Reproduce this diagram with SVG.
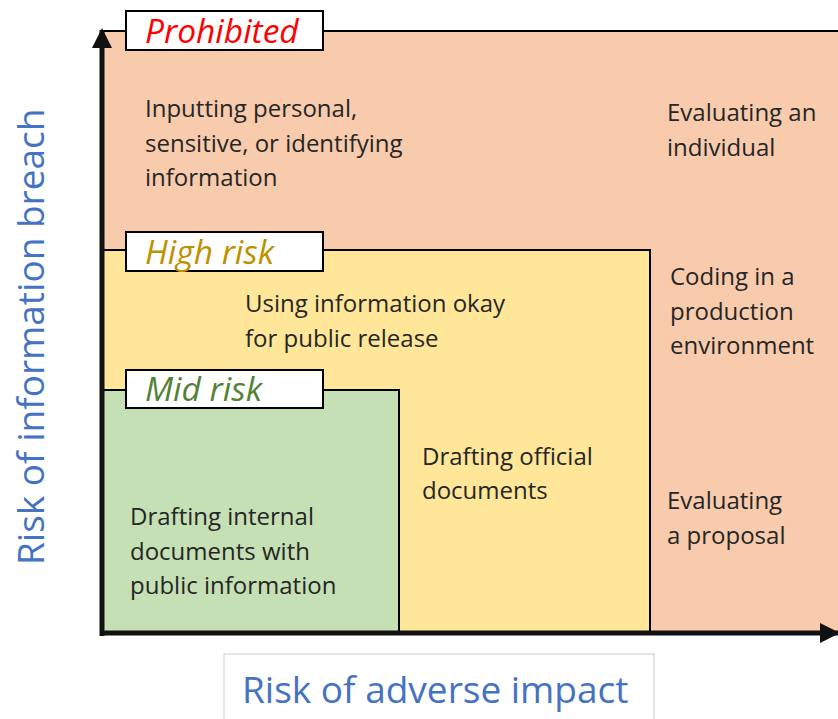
<svg xmlns="http://www.w3.org/2000/svg" width="838" height="719" viewBox="0 0 838 719">
<style>
.t{font-family:"Open Sans","Noto Sans","Liberation Sans",sans-serif;font-size:24px;fill:#262626}
.lab{font-family:"Open Sans","Noto Sans","Liberation Sans",sans-serif;font-size:33.5px;font-style:italic}
.ax{font-family:"Open Sans","Noto Sans","Liberation Sans",sans-serif;font-size:37px;fill:#4472C4}
.box{fill:#fff;stroke:#000;stroke-width:2}
.zone{stroke:#000;stroke-width:2}
</style>
<defs>
<marker id="ah" viewBox="0 0 10 10" refX="9" refY="5" markerWidth="4" markerHeight="4" orient="auto" markerUnits="strokeWidth">
<path d="M0,0 L10,5 L0,10 z" fill="#111"/>
</marker>
</defs>
<rect width="838" height="719" fill="#fff"/>
<g id="prohibited">
<rect class="zone" x="103" y="31" width="740" height="602" fill="#F8CBAD"/>
<rect class="box" x="126" y="11" width="197" height="39"/>
<text class="lab" x="145" y="43" fill="#FF0000">Prohibited</text>
<text class="t" x="145" y="117">Inputting personal,</text>
<text class="t" x="145" y="152">sensitive, or identifying</text>
<text class="t" x="145" y="186">information</text>
<text class="t" x="667" y="121">Evaluating an</text>
<text class="t" x="667" y="156">individual</text>
<text class="t" x="670" y="285">Coding in a</text>
<text class="t" x="670" y="320">production</text>
<text class="t" x="670" y="354">environment</text>
<text class="t" x="667" y="509">Evaluating</text>
<text class="t" x="667" y="544">a proposal</text>
</g>
<g id="high-risk">
<rect class="zone" x="103" y="250" width="547" height="383" fill="#FFE699"/>
<rect class="box" x="126" y="232" width="197" height="39"/>
<text class="lab" x="145" y="264" fill="#BF9000">High risk</text>
<text class="t" x="245" y="312">Using information okay</text>
<text class="t" x="245" y="347">for public release</text>
<text class="t" x="422" y="465">Drafting official</text>
<text class="t" x="422" y="499">documents</text>
</g>
<g id="mid-risk">
<rect class="zone" x="103" y="390" width="296" height="243" fill="#C5E0B4"/>
<rect class="box" x="126" y="370" width="197" height="38"/>
<text class="lab" x="145" y="401" fill="#548235">Mid risk</text>
<text class="t" x="130" y="525">Drafting internal</text>
<text class="t" x="130" y="560">documents with</text>
<text class="t" x="130" y="594">public information</text>
</g>
<g id="connectors">
<line x1="102" y1="636" x2="102" y2="30" stroke="#111" stroke-width="5" marker-end="url(#ah)"/>
<line x1="100" y1="633" x2="838" y2="633" stroke="#111" stroke-width="5" marker-end="url(#ah)"/>
</g>
<g id="x-axis-label">
<rect x="224" y="654" width="430" height="70" fill="#fff" stroke="#ccc" stroke-width="1"/>
<text class="ax" x="242" y="703">Risk of adverse impact</text>
</g>
<g id="y-axis-label">
<text class="ax" transform="translate(44,565) rotate(-90)">Risk of information breach</text>
</g>
</svg>
